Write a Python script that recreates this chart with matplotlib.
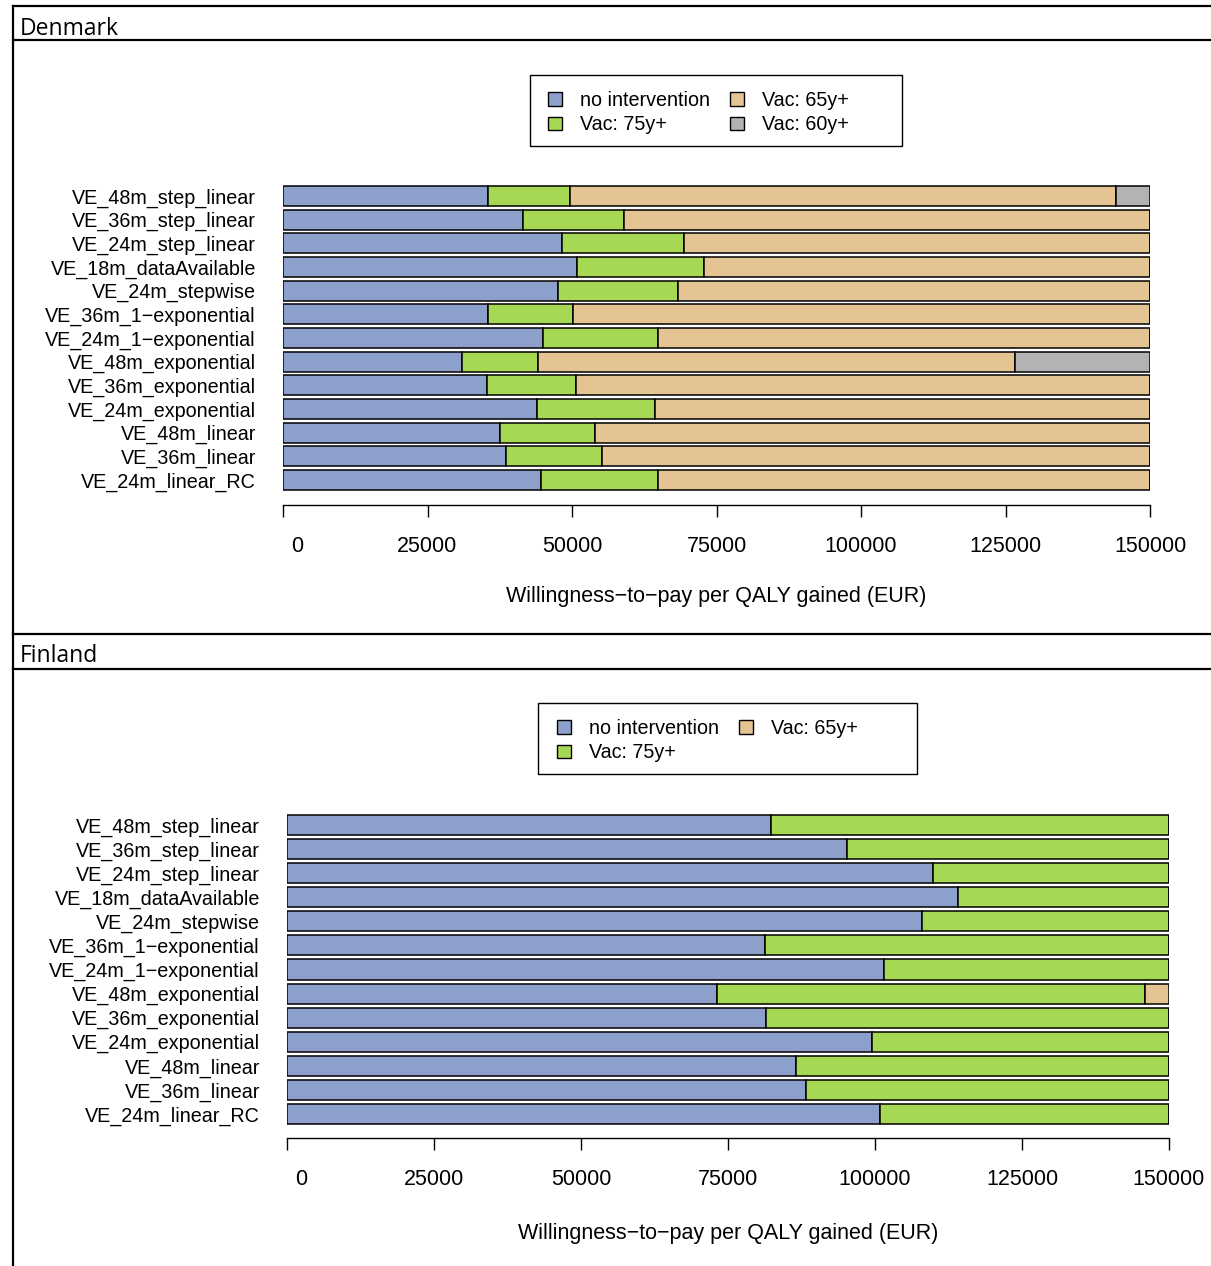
import matplotlib
matplotlib.use("Agg")
import matplotlib.pyplot as plt
from matplotlib.lines import Line2D
from matplotlib.patches import Patch, Rectangle
from matplotlib.transforms import ScaledTranslation
import numpy as np

W, H = 1211, 1266

scenarios = ["VE_48m_step_linear", "VE_36m_step_linear", "VE_24m_step_linear",
             "VE_18m_dataAvailable", "VE_24m_stepwise", "VE_36m_1\u2212exponential",
             "VE_24m_1\u2212exponential", "VE_48m_exponential", "VE_36m_exponential",
             "VE_24m_exponential", "VE_48m_linear", "VE_36m_linear", "VE_24m_linear_RC"]

series_names = ["no intervention", "Vac: 75y+", "Vac: 65y+", "Vac: 60y+"]
series_colors = ["#8DA0CB", "#A6D854", "#E5C494", "#B3B3B3"]

# WTP range (EUR) in which each strategy is optimal (cumulative upper bounds)
dk_no_int = [35500, 41600, 48300, 50800, 47600, 35500, 45000, 31000, 35300, 43900, 37500, 38500, 44600]
dk_vac75 = [49600, 59000, 69300, 72800, 68300, 50100, 64800, 44200, 50700, 64300, 53900, 55200, 64800]
dk_vac65 = [144200, 150000, 150000, 150000, 150000, 150000, 150000, 126700, 150000, 150000, 150000, 150000, 150000]
dk_vac60 = [150000] * 13

fi_no_int = [82300, 95200, 109900, 114200, 108000, 81300, 101500, 73100, 81500, 99500, 86600, 88300, 100800]
fi_vac75 = [150000, 150000, 150000, 150000, 150000, 150000, 150000, 146000, 150000, 150000, 150000, 150000, 150000]
fi_vac65 = [150000] * 13

x_ticks = [0, 25000, 50000, 75000, 100000, 125000, 150000]
x_label = "Willingness\u2212to\u2212pay per QALY gained (EUR)"

fig = plt.figure(figsize=(W / 100, H / 100), dpi=100)
plt.rcParams['font.family'] = ['Liberation Sans', 'DejaVu Sans']
FS = 14.2
FSX = 15.5


def fx(px):
    return px / W


def fy(py):
    return 1 - py / H


def panel(left, right, top, bottom, row0, pitch, bounds, nser, box, sq_left, row1, labx, laby):
    ax = fig.add_axes([fx(left), fy(bottom), fx(right) - fx(left), fy(top) - fy(bottom)])
    n = len(scenarios)
    pos = np.arange(n)
    prev = np.zeros(n)
    for i, b in enumerate(bounds):
        b = np.array(b, dtype=float)
        ax.barh(pos, b - prev, left=prev, height=0.835, color=series_colors[i],
                edgecolor="black", linewidth=1.1)
        prev = np.maximum(prev, b)
    ax.set_xlim(0, 150000)
    v_top = (top - row0) / pitch
    v_bot = (bottom - row0) / pitch
    ax.set_ylim(v_bot, v_top)
    ax.set_yticks(pos)
    ax.set_yticklabels(scenarios, fontsize=FS)
    ax.tick_params(axis="y", length=0, pad=19.5)
    for s in ["top", "right", "left"]:
        ax.spines[s].set_visible(False)
    ax.spines["bottom"].set_bounds(0, 150000)
    ax.spines["bottom"].set_linewidth(1.0)
    ax.set_xticks(x_ticks)
    ax.set_xticklabels([str(t) for t in x_ticks], fontsize=FSX)
    ax.tick_params(axis="x", length=8.6, width=1.0, pad=13.5)
    lbl0 = ax.get_xticklabels()[0]
    lbl0.set_transform(lbl0.get_transform() + ScaledTranslation(14 / 100, 0, fig.dpi_scale_trans))
    fig.text(fx(labx), fy(laby), x_label, fontsize=FSX, ha="center", va="center")
    # legend frame
    fig.add_artist(Rectangle((fx(box[0]), fy(box[3])), fx(box[2]) - fx(box[0]),
                             fy(box[1]) - fy(box[3]), transform=fig.transFigure,
                             fill=False, edgecolor="black", linewidth=1.0))
    handles = [Patch(facecolor=series_colors[i], edgecolor="black", linewidth=1.0)
               for i in range(nser)]
    fig.legend(handles, series_names[:nser], loc="upper left",
               bbox_to_anchor=(fx(sq_left), fy(row1 - 8)),
               bbox_transform=fig.transFigure, ncol=2, fontsize=FS,
               frameon=False, borderaxespad=0, borderpad=0,
               handlelength=0.7, handleheight=0.7, handletextpad=0.9,
               columnspacing=1.05, labelspacing=0.27)
    return ax


panel(283, 1150, 180, 505, 196, 23.67, [dk_no_int, dk_vac75, dk_vac65, dk_vac60], 4,
      (530, 75, 902, 146), 548, 99, 716, 597)
panel(287, 1169, 810, 1138, 825, 24.08, [fi_no_int, fi_vac75, fi_vac65], 3,
      (538, 703, 917, 774), 557, 727, 728, 1233)

# document-style panel frame with headers
for y in [6, 40, 634, 669]:
    fig.add_artist(Line2D([fx(13), fx(1211)], [fy(y), fy(y)], color="black", linewidth=1.6,
                          transform=fig.transFigure))
fig.add_artist(Line2D([fx(13), fx(13)], [fy(6), fy(1266)], color="black", linewidth=1.6,
                      transform=fig.transFigure))
fig.text(fx(20), fy(29), "Denmark", fontsize=16.5, family=["Open Sans", "DejaVu Sans"],
         ha="left", va="center")
fig.text(fx(20), fy(656), "Finland", fontsize=16.5, family=["Open Sans", "DejaVu Sans"],
         ha="left", va="center")

fig.savefig("out.png", dpi=100)
